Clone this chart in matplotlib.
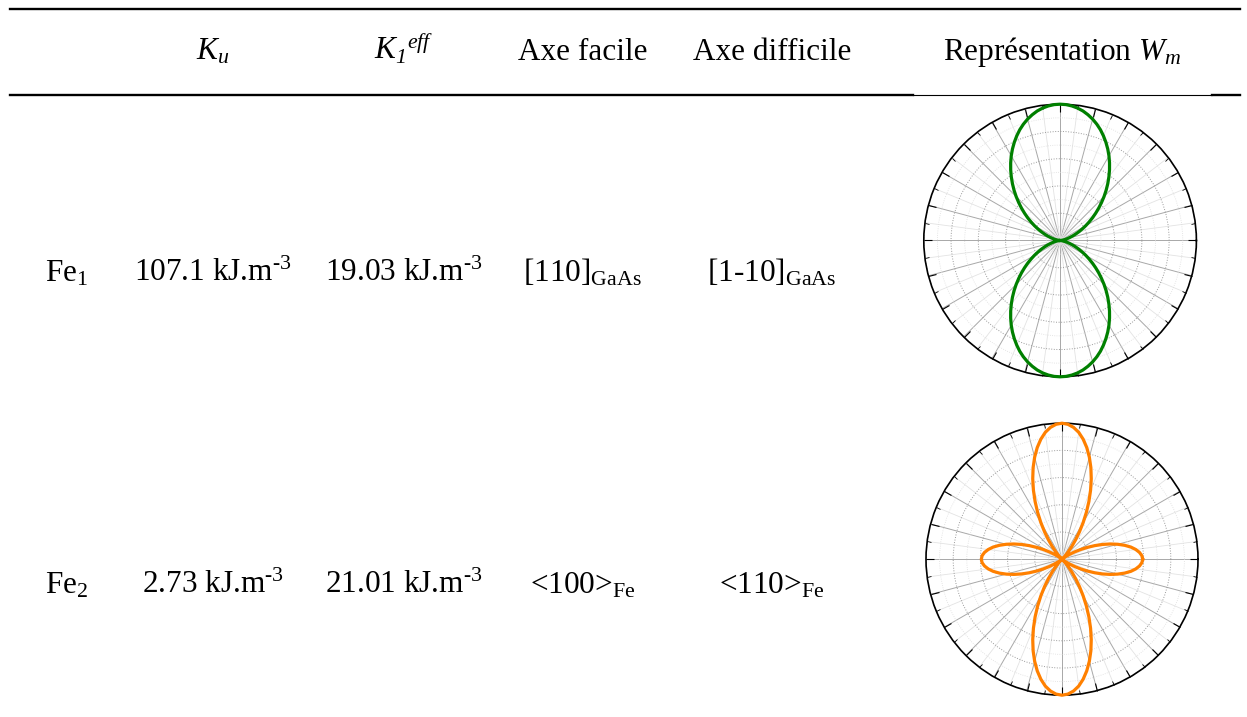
import numpy as np
import matplotlib
matplotlib.use('Agg')
import matplotlib.pyplot as plt
from matplotlib.ticker import FixedLocator

plt.rcParams['font.family'] = ['Liberation Serif', 'DejaVu Serif']
plt.rcParams['mathtext.fontset'] = 'custom'
plt.rcParams['mathtext.rm'] = 'Liberation Serif'
plt.rcParams['mathtext.it'] = 'Liberation Serif:italic'
plt.rcParams['mathtext.cal'] = 'Liberation Serif:italic'
plt.rcParams['mathtext.bf'] = 'Liberation Serif:bold'

# table content
headers = ['$K_u$', '$K_{\\mathcal{1}}{}^{eff}$', 'Axe facile', 'Axe difficile',
           'Représentation $W_m$']
materials = ['Fe$_1$', 'Fe$_2$']
ku = ['107.1', '2.73']
k1 = ['19.03', '21.01']
easy_axis = ['[110]$_{\\mathrm{GaAs}}$', '<100>$_{\\mathrm{Fe}}$']
hard_axis = ['[1-10]$_{\\mathrm{GaAs}}$', '<110>$_{\\mathrm{Fe}}$']
unit = ' kJ.m$^{\\text{-}3}$'

# W_m (normalised), one quadrant, angle from horizontal
angle_deg = [0, 2.5, 5, 7.5, 10, 12.5, 15, 17.5, 20, 22.5, 25, 27.5, 30, 32.5,
             35, 37.5, 40, 42.5, 45, 47.5, 50, 52.5, 55, 57.5, 60, 62.5, 65,
             67.5, 70, 72.5, 75, 77.5, 80, 82.5, 85, 87.5, 90]
w_fe1 = [0.0, 0.002, 0.006, 0.014, 0.025, 0.039, 0.056, 0.076, 0.099, 0.124,
         0.153, 0.183, 0.217, 0.252, 0.290, 0.329, 0.370, 0.412, 0.456, 0.500,
         0.544, 0.588, 0.632, 0.675, 0.717, 0.757, 0.795, 0.831, 0.865, 0.895,
         0.922, 0.945, 0.965, 0.980, 0.991, 0.998, 1.0]
w_fe2 = [0.593, 0.588, 0.572, 0.547, 0.514, 0.472, 0.424, 0.372, 0.317, 0.261,
         0.206, 0.154, 0.107, 0.067, 0.035, 0.013, 0.002, 0.001, 0.013, 0.037,
         0.072, 0.118, 0.174, 0.239, 0.311, 0.388, 0.468, 0.549, 0.629, 0.706,
         0.777, 0.841, 0.896, 0.941, 0.973, 0.993, 1.0]
curve_colors = ['#008000', '#ff8000']

W, H = 1247, 717
fig = plt.figure(figsize=(W / 100, H / 100), dpi=100)
ax = fig.add_axes([0, 0, 1, 1])
ax.set_xlim(0, W)
ax.set_ylim(H, 0)
ax.axis('off')

# rules
ax.plot([10, 1240], [9, 9], color='k', lw=1.7)
ax.plot([10, 913], [95, 95], color='k', lw=1.7)
ax.plot([913, 1212], [94.5, 94.5], color='k', lw=0.8)
ax.plot([1212, 1240], [95, 95], color='k', lw=1.7)

fs = 22.5
col_x = [213, 404, 582.5, 772, 1062]
for x, h in zip(col_x, headers):
    ax.text(x, 60, h, ha='center', va='baseline', fontsize=fs)

row_y = [281, 593]
for i, y in enumerate(row_y):
    ax.text(45, y, materials[i], ha='left', va='baseline', fontsize=fs)
    ax.text(col_x[0], y, ku[i] + unit, ha='center', va='baseline', fontsize=fs)
    ax.text(col_x[1], y, k1[i] + unit, ha='center', va='baseline', fontsize=fs)
    ax.text(col_x[2], y, easy_axis[i], ha='center', va='baseline', fontsize=fs)
    ax.text(col_x[3], y, hard_axis[i], ha='center', va='baseline', fontsize=fs)


def full_curve(q_deg, q_r):
    q_deg = np.array(q_deg, float)
    q_r = np.array(q_r, float)
    th = np.concatenate([q_deg, 180 - q_deg[::-1][1:], 180 + q_deg[1:],
                         360 - q_deg[::-1][1:]])
    r = np.concatenate([q_r, q_r[::-1][1:], q_r[1:], q_r[::-1][1:]])
    return np.radians(th), r


polar_boxes = [[923.8 / W, (H - 240.5 - 136.3) / H, 272.6 / W, 272.6 / H],
               [926.0 / W, (H - 559.2 - 136.0) / H, 272.0 / W, 272.0 / H]]

for box, w, c in zip(polar_boxes, [w_fe1, w_fe2], curve_colors):
    pax = fig.add_axes(box, projection='polar')
    th, r = full_curve(angle_deg, w)
    pax.plot(th, r, color=c, lw=2.3, clip_on=False, zorder=5)
    pax.set_ylim(0, 1)
    pax.set_xticks(np.radians(np.arange(0, 360, 15)))
    pax.xaxis.set_minor_locator(FixedLocator(np.radians(np.arange(7.5, 360, 15))))
    pax.set_yticks([0.2, 0.4, 0.6, 0.8, 1.0])
    pax.yaxis.set_minor_locator(FixedLocator([0.1, 0.3, 0.5, 0.7, 0.9]))
    pax.set_xticklabels([])
    pax.set_yticklabels([])
    pax.grid(axis='x', which='major', color='#a8a8a8', lw=0.7, ls='-')
    pax.grid(axis='x', which='minor', color='#e3e3e3', lw=0.6, ls='-')
    pax.grid(axis='y', which='major', color='#9a9a9a', lw=0.7, ls=':')
    pax.grid(axis='y', which='minor', color='#dddddd', lw=0.6, ls=':')
    pax.xaxis.set_tick_params(which='both', tick1On=False, tick2On=True,
                              direction='in', color='k')
    pax.xaxis.set_tick_params(which='major', length=6, width=0.8)
    pax.xaxis.set_tick_params(which='minor', length=3, width=0.6)
    pax.tick_params(axis='y', which='both', length=0)
    pax.spines['polar'].set_color('k')
    pax.spines['polar'].set_linewidth(1.2)

fig.savefig('out.png', dpi=100)
